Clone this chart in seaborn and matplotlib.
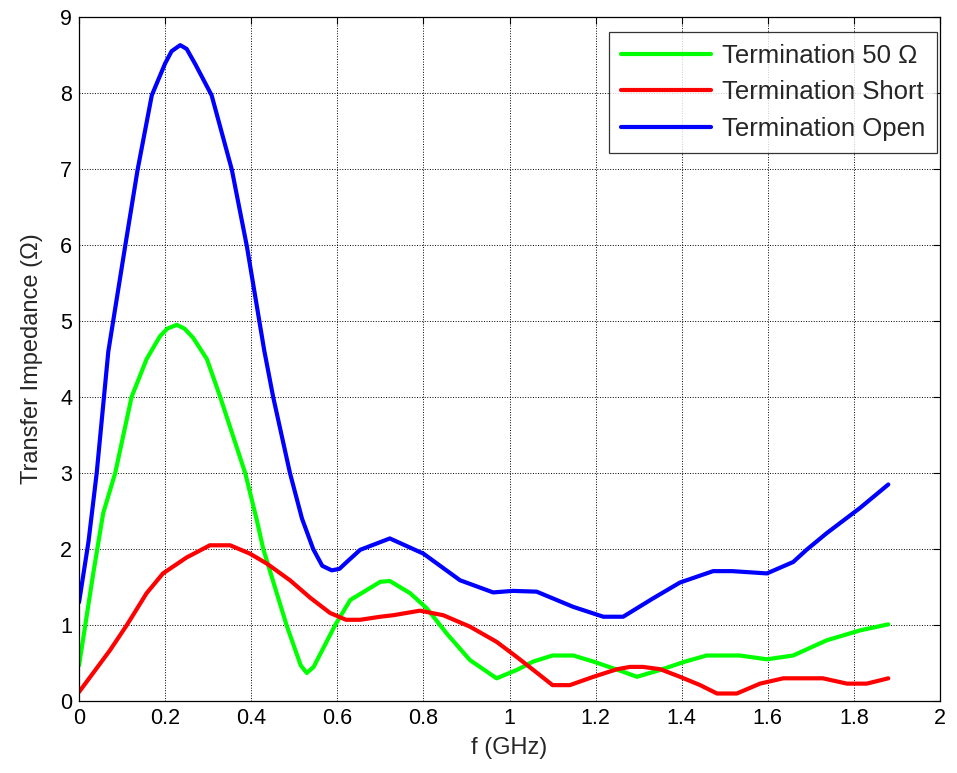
import numpy as np
import pandas as pd
import matplotlib
matplotlib.use('Agg')
import matplotlib.pyplot as plt
import seaborn as sns

# ================= DATA =================
f_open = [0, 0.022, 0.041, 0.068, 0.107, 0.136, 0.169, 0.2, 0.215, 0.235, 0.25, 0.27, 0.308,
          0.355, 0.39, 0.43, 0.451, 0.49, 0.518, 0.544, 0.565, 0.587, 0.605, 0.62, 0.653, 0.722,
          0.8, 0.885, 0.962, 1.008, 1.063, 1.148, 1.218, 1.264, 1.333, 1.396,
          1.473, 1.517, 1.598, 1.659, 1.69, 1.737, 1.814, 1.88]
z_open = [1.3, 2.1, 3.0, 4.6, 5.98, 6.99, 7.97, 8.39, 8.55, 8.63, 8.58, 8.38, 7.97,
          6.99, 5.98, 4.62, 4.0, 3.0, 2.4, 2.0, 1.78, 1.72, 1.74, 1.82, 1.99, 2.14,
          1.94, 1.59, 1.43, 1.45, 1.44, 1.24, 1.11, 1.11, 1.35, 1.56,
          1.71, 1.71, 1.68, 1.83, 1.99, 2.21, 2.54, 2.85]

f_50 = [0, 0.033, 0.056, 0.084, 0.122, 0.157, 0.188, 0.205, 0.227, 0.245, 0.265, 0.297, 0.328,
        0.386, 0.413, 0.428, 0.482, 0.515, 0.529, 0.545, 0.595, 0.63, 0.7, 0.722, 0.769, 0.808,
        0.854, 0.908, 0.97, 1.017, 1.055, 1.1, 1.148, 1.195, 1.257, 1.296, 1.35,
        1.408, 1.458, 1.535, 1.598, 1.659, 1.737, 1.814, 1.88]
z_50 = [0.47, 1.68, 2.47, 3.0, 4.0, 4.5, 4.8, 4.9, 4.95, 4.9, 4.78, 4.5, 4.0,
        3.0, 2.38, 2.0, 1.0, 0.47, 0.37, 0.45, 1.0, 1.33, 1.57, 1.58, 1.42, 1.22,
        0.89, 0.54, 0.30, 0.41, 0.52, 0.6, 0.6, 0.52, 0.40, 0.32, 0.41,
        0.52, 0.6, 0.6, 0.55, 0.6, 0.8, 0.93, 1.01]

f_short = [0, 0.072, 0.111, 0.157, 0.195, 0.25, 0.304, 0.351, 0.397, 0.436, 0.49,
           0.537, 0.583, 0.62, 0.653, 0.7, 0.73, 0.792, 0.846, 0.908, 0.97, 1.017,
           1.071, 1.1, 1.14, 1.195, 1.25, 1.28, 1.31, 1.35, 1.396, 1.443, 1.482,
           1.528, 1.582, 1.636, 1.728, 1.784, 1.83, 1.88]
z_short = [0.12, 0.67, 1.0, 1.42, 1.68, 1.89, 2.05, 2.05, 1.94, 1.81, 1.59,
           1.36, 1.16, 1.07, 1.07, 1.11, 1.13, 1.19, 1.13, 0.98, 0.78, 0.58,
           0.34, 0.21, 0.21, 0.32, 0.42, 0.45, 0.45, 0.42, 0.32, 0.21, 0.1,
           0.1, 0.23, 0.30, 0.30, 0.23, 0.23, 0.30]

labels = ['Termination 50 Ω', 'Termination Short', 'Termination Open']
colors = ['#00ff00', '#ff0000', '#0000ff']

df = pd.concat([
    pd.DataFrame({'f': f_50, 'z': z_50, 'serie': labels[0]}),
    pd.DataFrame({'f': f_short, 'z': z_short, 'serie': labels[1]}),
    pd.DataFrame({'f': f_open, 'z': z_open, 'serie': labels[2]}),
], ignore_index=True)

# ================= PLOT =================
sns.set_style('white')
plt.rcParams['font.family'] = ['Liberation Sans', 'DejaVu Sans']

fig = plt.figure(figsize=(9.57, 7.73), dpi=100)
ax = fig.add_axes([0.0826, 0.093, 0.8996, 0.885])

sns.lineplot(data=df, x='f', y='z', hue='serie', hue_order=labels,
             palette=dict(zip(labels, colors)), linewidth=3,
             estimator=None, sort=True, ax=ax)

ax.set_xlim(0, 2)
ax.set_ylim(0, 9)
ax.set_xticks(np.arange(0, 2.01, 0.2))
ax.set_xticklabels(['0', '0.2', '0.4', '0.6', '0.8', '1', '1.2', '1.4', '1.6', '1.8', '2'])
ax.set_yticks(range(0, 10))
ax.grid(True, linestyle=':', color='black', linewidth=0.7)
ax.tick_params(direction='in', top=True, right=True, length=5, width=0.8,
               labelsize=15.5, colors='black', pad=5)
for s in ax.spines.values():
    s.set_color('black')
    s.set_linewidth(0.9)

ax.set_xlabel('f (GHz)', fontsize=17, labelpad=6)
ax.set_ylabel('Transfer Impedance (Ω)', fontsize=17, labelpad=12)

leg = ax.legend(loc='upper right', bbox_to_anchor=(937 / 957, 1 - 32 / 773),
                bbox_transform=fig.transFigure, fontsize=18.5, frameon=True,
                fancybox=False, edgecolor='black', handlelength=3.5,
                labelspacing=0.5, borderpad=0.45, handletextpad=0.45,
                borderaxespad=0)
leg.get_frame().set_linewidth(0.9)
leg.set_title(None)

fig.savefig('out.png', dpi=100)
